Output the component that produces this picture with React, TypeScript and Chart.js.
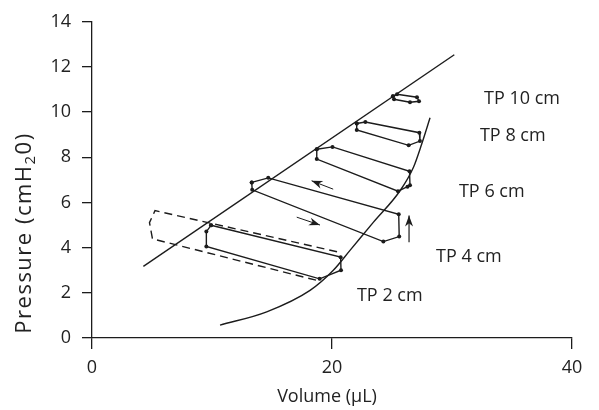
import React, { useEffect, useRef } from "react";
import { Chart, registerables } from "chart.js";

Chart.register(...registerables);

// ---- data ----
const xTickValues = [0, 20, 40];
const yTickValues = [0, 2, 4, 6, 8, 10, 12, 14];

const boundaryX = [4.28, 30.19];
const boundaryY = [3.17, 12.54];

const curveX = [10.67, 14.56, 18.17, 20.11, 21.5, 23.44, 25.67, 26.78, 27.47, 28.17];
const curveY = [0.57, 1.16, 2.11, 3.0, 3.88, 5.12, 6.52, 7.55, 8.58, 9.75];

const tp10X = [25.08, 25.42, 27.08, 27.25, 26.5, 25.17, 25.08];
const tp10Y = [10.7, 10.79, 10.66, 10.48, 10.44, 10.57, 10.7];

const tp8X = [22.06, 22.78, 27.28, 27.33, 26.39, 22.06, 22.06];
const tp8Y = [9.5, 9.56, 9.09, 8.72, 8.53, 9.21, 9.5];

const tp6X = [18.73, 20.04, 26.46, 26.5, 26.29, 25.5, 18.73, 18.73];
const tp6Y = [8.36, 8.46, 7.38, 6.76, 6.7, 6.5, 7.92, 8.36];

const tp4X = [13.31, 14.69, 25.56, 25.6, 24.28, 13.35, 13.31];
const tp4Y = [6.89, 7.09, 5.48, 4.49, 4.27, 6.56, 6.89];

const tp2X = [9.92, 9.53, 9.53, 18.97, 20.75, 20.72, 9.92];
const tp2Y = [4.99, 4.71, 4.05, 2.62, 3.0, 3.58, 4.99];

const dashedX = [20.42, 5.25, 4.79, 5.04, 19.04];
const dashedY = [3.82, 5.64, 5.11, 4.39, 2.51];

const arrowLeftX = [20.1, 18.3];
const arrowLeftY = [6.59, 6.96];
const arrowRightX = [17.06, 19.0];
const arrowRightY = [5.35, 5.0];
const arrowUpX = [26.42, 26.42];
const arrowUpY = [4.24, 5.42];

const labelTexts = ["TP 10 cm", "TP 8 cm", "TP 6 cm", "TP 4 cm", "TP 2 cm"];
const labelX = [32.67, 32.33, 30.58, 28.67, 22.08];
const labelY = [10.59, 8.94, 6.48, 3.61, 1.85];

const xTitle = "Volume (\u00b5L)";
const yTitleParts = ["Pressure (cmH", "2", "0)"];

// ---- helpers ----
const toPoints = (xs: number[], ys: number[]) => xs.map((x, i) => ({ x, y: ys[i] }));

const INK = "#1c1c1c";
const FONT = "'Open Sans', 'Noto Sans', sans-serif";

const lineDs = (xs: number[], ys: number[], extra: any = {}) => ({
  data: toPoints(xs, ys),
  showLine: true,
  borderColor: INK,
  backgroundColor: INK,
  borderWidth: 1.4,
  pointRadius: 0,
  tension: 0,
  ...extra,
});

const loopDs = (xs: number[], ys: number[]) =>
  lineDs(xs, ys, { pointRadius: 2, pointHoverRadius: 2, pointBorderWidth: 0 });

const annotationPlugin = {
  id: "annotations",
  afterDatasetsDraw(chart: any) {
    const ctx = chart.ctx;
    const xs = chart.scales.x;
    const ys = chart.scales.y;
    ctx.save();
    // arrow heads
    chart.data.datasets.forEach((ds: any, i: number) => {
      if (!ds.arrowHead) return;
      const pts = chart.getDatasetMeta(i).data;
      const a = pts[pts.length - 2];
      const b = pts[pts.length - 1];
      const ang = Math.atan2(b.y - a.y, b.x - a.x);
      const len = 11;
      const hw = 4;
      ctx.fillStyle = INK;
      ctx.beginPath();
      ctx.moveTo(b.x, b.y);
      ctx.lineTo(b.x - len * Math.cos(ang) + hw * Math.sin(ang), b.y - len * Math.sin(ang) - hw * Math.cos(ang));
      ctx.lineTo(b.x - len * 0.7 * Math.cos(ang), b.y - len * 0.7 * Math.sin(ang));
      ctx.lineTo(b.x - len * Math.cos(ang) - hw * Math.sin(ang), b.y - len * Math.sin(ang) + hw * Math.cos(ang));
      ctx.closePath();
      ctx.fill();
    });
    // TP labels
    ctx.fillStyle = "#222";
    ctx.font = `18px ${FONT}`;
    ctx.textAlign = "left";
    ctx.textBaseline = "middle";
    labelTexts.forEach((t, i) => {
      ctx.fillText(t, xs.getPixelForValue(labelX[i]), ys.getPixelForValue(labelY[i]));
    });
    // x title
    ctx.textAlign = "center";
    ctx.fillText(xTitle, (xs.left + xs.right) / 2 - 5, 397);
    // y title (rotated, with subscript)
    const cy = 233;
    const cx = 25;
    ctx.translate(cx, cy);
    ctx.rotate(-Math.PI / 2);
    ctx.textAlign = "left";
    try {
      ctx.letterSpacing = "1.5px";
    } catch (e) {}
    const big = `22px ${FONT}`;
    const small = `15px ${FONT}`;
    ctx.font = big;
    const w0 = ctx.measureText(yTitleParts[0]).width;
    const w2 = ctx.measureText(yTitleParts[2]).width;
    ctx.font = small;
    const w1 = ctx.measureText(yTitleParts[1]).width;
    let x = -(w0 + w1 + w2) / 2;
    ctx.font = big;
    ctx.fillText(yTitleParts[0], x, 0);
    x += w0;
    ctx.font = small;
    ctx.fillText(yTitleParts[1], x, 6);
    x += w1;
    ctx.font = big;
    ctx.fillText(yTitleParts[2], x, 0);
    ctx.restore();
  },
};

export default function App() {
  const ref = useRef<HTMLCanvasElement | null>(null);
  useEffect(() => {
    if (!ref.current) return;
    const chart = new Chart(ref.current, {
      type: "scatter",
      data: {
        datasets: [
          lineDs(boundaryX, boundaryY),
          lineDs(curveX, curveY, { cubicInterpolationMode: "monotone" }),
          loopDs(tp10X, tp10Y),
          loopDs(tp8X, tp8Y),
          loopDs(tp6X, tp6Y),
          loopDs(tp4X, tp4Y),
          loopDs(tp2X, tp2Y),
          lineDs(dashedX, dashedY, { borderDash: [8, 5] }),
          lineDs(arrowLeftX, arrowLeftY, { arrowHead: true, borderWidth: 1 }),
          lineDs(arrowRightX, arrowRightY, { arrowHead: true, borderWidth: 1 }),
          lineDs(arrowUpX, arrowUpY, { arrowHead: true, borderWidth: 1.2 }),
        ] as any,
      },
      options: {
        animation: false,
        responsive: true,
        maintainAspectRatio: false,
        layout: { padding: { top: 20, right: 27, left: 0, bottom: 0 } },
        plugins: { legend: { display: false }, tooltip: { enabled: false } },
        events: [],
        scales: {
          x: {
            type: "linear",
            min: 0,
            max: 40,
            afterBuildTicks: (s: any) => {
              s.ticks = xTickValues.map((v) => ({ value: v }));
            },
            afterFit: (s: any) => {
              s.height = 72;
            },
            ticks: { color: "#222", font: { family: FONT, size: 18 }, padding: 8, maxRotation: 0 },
            grid: { drawOnChartArea: false, drawTicks: true, tickLength: 11, color: INK, lineWidth: 1.3 },
            border: { display: true, color: INK, width: 1.3 },
          },
          y: {
            type: "linear",
            min: 0,
            max: 14,
            afterBuildTicks: (s: any) => {
              s.ticks = yTickValues.map((v) => ({ value: v }));
            },
            afterFit: (s: any) => {
              s.width = 92;
            },
            ticks: { color: "#222", font: { family: FONT, size: 18 }, padding: 11 },
            grid: { drawOnChartArea: false, drawTicks: true, tickLength: 10, color: INK, lineWidth: 1.3 },
            border: { display: true, color: INK, width: 1.3 },
          },
        },
      } as any,
      plugins: [annotationPlugin],
    });
    return () => chart.destroy();
  }, []);
  return (
    <div style={{ position: "fixed", left: 0, top: 0, width: 599, height: 410, background: "#fff" }}>
      <canvas ref={ref} />
    </div>
  );
}
